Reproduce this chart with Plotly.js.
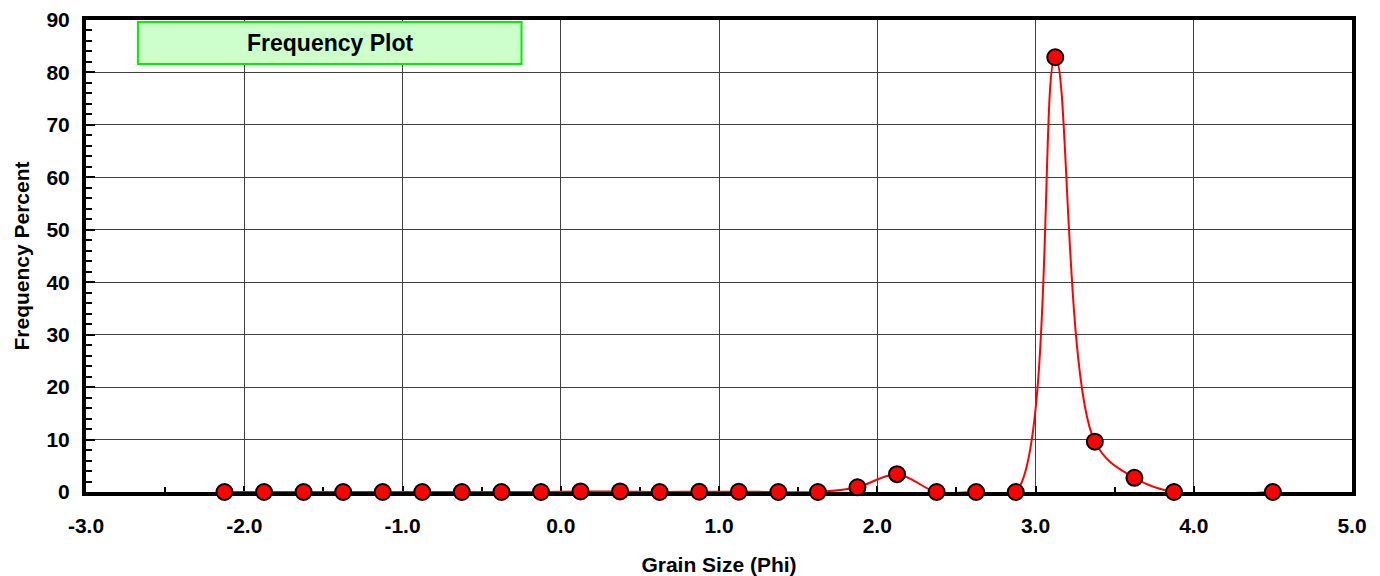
<!DOCTYPE html>
<html>
<head>
<meta charset="utf-8">
<script src="https://cdn.plot.ly/plotly-3.0.1.min.js"></script>
<style>
html,body{margin:0;padding:0;background:#fff;}
#chart{width:1380px;height:576px;}
</style>
</head>
<body>
<div id="chart"></div>
<script>
const grainSize = [-2.125,-1.875,-1.625,-1.375,-1.125,-0.875,-0.625,-0.375,-0.125,0.125,0.375,0.625,0.875,1.125,1.375,1.625,1.875,2.125,2.375,2.625,2.875,3.125,3.375,3.625,3.875,4.5];
const frequency = [0,0,0,0,0,0,0,0,0,0.1,0.1,0,0.05,0.05,0,0,0.9,3.4,0,0,0,82.9,9.6,2.7,0,0];
const xTickVals = [-3,-2,-1,0,1,2,3,4,5];
const xTickText = ['-3.0','-2.0','-1.0','0.0','1.0','2.0','3.0','4.0','5.0'];
const yTickVals = [0,10,20,30,40,50,60,70,80,90];
const yTickText = ['0','10','20','30','40','50','60','70','80','90'];
const chartTitle = 'Frequency Plot';
const xTitle = 'Grain Size (Phi)';
const yTitle = 'Frequency Percent';

const fontFam = 'Liberation Sans, Arial, sans-serif';
const bold = s => '<b>' + s + '</b>';

const trace = {
  x: grainSize,
  y: frequency,
  type: 'scatter',
  mode: 'lines+markers',
  line: {color: '#ff0000', width: 2, shape: 'spline', smoothing: 1},
  marker: {color: '#ff0000', size: 16, line: {color: '#000000', width: 2}},
  cliponaxis: false,
  hoverinfo: 'x+y'
};

const layout = {
  width: 1380,
  height: 576,
  margin: {l: 86, r: 28, t: 20, b: 84},
  paper_bgcolor: '#ffffff',
  plot_bgcolor: '#ffffff',
  showlegend: false,
  font: {family: fontFam, color: '#000', size: 21},
  xaxis: {
    range: [-3, 5],
    tickmode: 'array',
    tickvals: xTickVals,
    ticktext: xTickText.map(bold),
    showgrid: true,
    gridcolor: '#404040',
    gridwidth: 1,
    zeroline: false,
    showline: true,
    linecolor: '#000',
    linewidth: 4,
    mirror: true,
    ticks: 'inside',
    ticklen: 6,
    tickwidth: 2,
    tickcolor: '#000',
    ticklabelstandoff: 12,
    minor: {dtick: 0.5, tick0: -3, ticks: 'inside', ticklen: 5, tickwidth: 2, tickcolor: '#000', showgrid: false},
    tickfont: {family: fontFam, size: 21, color: '#000'},
    title: {text: bold(xTitle), font: {family: fontFam, size: 21, color: '#000'}, standoff: 22},
    layer: 'below traces',
    fixedrange: true
  },
  yaxis: {
    range: [0, 90],
    tickmode: 'array',
    tickvals: yTickVals,
    ticktext: yTickText.map(bold),
    showgrid: true,
    gridcolor: '#404040',
    gridwidth: 1,
    zeroline: false,
    showline: true,
    linecolor: '#000',
    linewidth: 4,
    mirror: true,
    ticks: 'inside',
    ticklen: 9,
    tickwidth: 2,
    tickcolor: '#000',
    ticklabelstandoff: 8,
    minor: {dtick: 2, tick0: 0, ticks: 'inside', ticklen: 6, tickwidth: 2, tickcolor: '#000', showgrid: false},
    tickfont: {family: fontFam, size: 21, color: '#000'},
    title: {text: bold(yTitle), font: {family: fontFam, size: 21, color: '#000'}, standoff: 12},
    layer: 'below traces',
    fixedrange: true
  },
  shapes: [{
    type: 'rect', xref: 'paper', yref: 'paper',
    x0: 0.041, x1: 0.344, y0: 0.907, y1: 0.996,
    fillcolor: '#ccffcc', line: {color: '#00ee00', width: 2}, layer: 'above'
  }],
  annotations: [{
    xref: 'paper', yref: 'paper',
    x: 0.1925, y: 0.9515, xanchor: 'center', yanchor: 'middle',
    text: bold(chartTitle), showarrow: false,
    font: {family: fontFam, size: 23, color: '#000'}
  }]
};

Plotly.newPlot('chart', [trace], layout, {displayModeBar: false, staticPlot: true});
</script>
</body>
</html>
